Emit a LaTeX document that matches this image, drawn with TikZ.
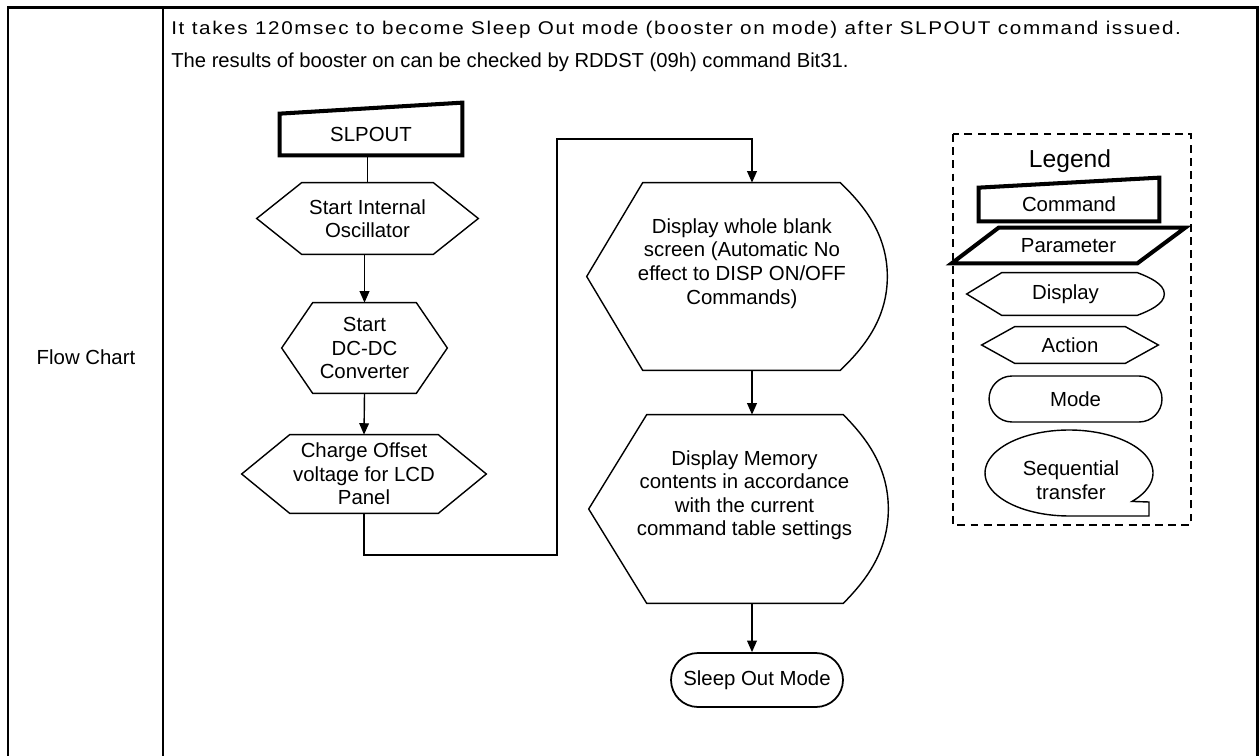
\documentclass[tikz,border=0pt]{standalone}
\usepackage{fontspec}
\setmainfont{Liberation Sans}
\newfontfamily\widefont[FakeStretch=1.12,LetterSpace=8.8]{Liberation Sans}
\usetikzlibrary{arrows.meta,calc,shapes.misc}

\tikzset{
  flowtext/.style={font=\fontsize{11.6}{13.4}\selectfont, align=center, inner sep=0pt},
  shapeline/.style={line width=0.8pt, line join=miter},
  boldline/.style={line width=2.3pt, line join=miter},
  flowline/.style={line width=0.8pt},
  flowarrow/.style={line width=0.8pt, -{Triangle[length=6.5pt,width=5.5pt]}},
}

% hexagon round a node, #2 = depth of the side points
\newcommand{\hexshape}[2]{%
  \draw[shapeline] (#1.west) -- ($(#1.north west)+(#2,0)$) -- ($(#1.north east)+(-#2,0)$)
    -- (#1.east) -- ($(#1.south east)+(-#2,0)$) -- ($(#1.south west)+(#2,0)$) -- cycle;}
% display symbol round a node, #2 = left point, #3 = rounded right side
\newcommand{\dispshape}[3]{%
  \draw[shapeline] (#1.west) -- ($(#1.north west)+(#2,0)$) -- ($(#1.north east)+(-#3,0)$)
    .. controls ($(#1.north east)!0.21!(#1.east)+(-0.57*#3,0)$) and ($(#1.east)!0.48!(#1.north east)$) .. (#1.east)
    .. controls ($(#1.east)!0.48!(#1.south east)$) and ($(#1.south east)!0.21!(#1.east)+(-0.57*#3,0)$) .. ($(#1.south east)+(-#3,0)$)
    -- ($(#1.south west)+(#2,0)$) -- cycle;}

\begin{document}
\begin{tikzpicture}[x=0.02cm,y=-0.02cm]
  \useasboundingbox (0,0) rectangle (1260,756);
  % table frame
  \draw[line width=1.7pt] (8,756) -- (8,8) -- (1257,8) -- (1257,756);
  \draw[line width=1.3pt] (163,8) -- (163,756);
  \node[flowtext] (rowlabel) at (86,357) {Flow Chart};
  \node[anchor=west, inner sep=0pt, font=\widefont\fontsize{10.5}{12}\selectfont] (noteA) at (171,30)
    {It takes 120msec to become Sleep Out mode (booster on mode) after SLPOUT command issued.};
  \node[anchor=west, inner sep=0pt, font=\fontsize{11.5}{13}\selectfont] (noteB) at (171,62)
    {The results of booster on can be checked by RDDST (09h) command Bit31.};

  % flow steps
  \node[flowtext, minimum width=3.64cm, minimum height=0.82cm] (slpout) at (371,134.5) {SLPOUT};
  \draw[boldline] (slpout.north west) -- ($(slpout.north east)+(0,-11)$) -- (slpout.south east)
    -- (slpout.south west) -- cycle;
  \node[flowtext, minimum width=4.42cm, minimum height=1.42cm] (osc) at (367.5,218.5) {Start Internal\\Oscillator};
  \hexshape{osc}{45}
  \node[flowtext, minimum width=3.3cm, minimum height=1.8cm] (dcdc) at (364.5,348) {Start\\DC-DC\\Converter};
  \hexshape{dcdc}{31}
  \node[flowtext, minimum width=4.88cm, minimum height=1.56cm] (charge) at (364,474) {Charge Offset\\voltage for LCD\\Panel};
  \hexshape{charge}{48}
  \node[flowtext, minimum width=6cm, minimum height=3.74cm,
    label={[flowtext,xshift=2.8pt,yshift=7.4pt]center:Display whole blank\\screen (Automatic No\\effect to DISP ON/OFF\\Commands)}]
    (blank) at (737,276.5) {};
  \dispshape{blank}{56}{47}
  \node[flowtext, minimum width=5.98cm, minimum height=3.76cm,
    label={[flowtext,xshift=3.4pt,yshift=7.9pt]center:Display Memory\\contents in accordance\\with the current\\command table settings}]
    (memory) at (738.5,509) {};
  \dispshape{memory}{58}{45}
  \node[flowtext, draw, line width=1pt, rounded rectangle, minimum width=3.44cm, minimum height=1.08cm] (sleepout) at (757,680) {Sleep Out Mode};

  % connectors
  \coordinate (turnA) at (557,555);
  \coordinate (turnB) at (557,139);
  \coordinate (turnC) at (752,139);
  \draw[flowline] (slpout.south -| osc.north) -- (osc.north);
  \draw[flowarrow] (dcdc.north |- osc.south) -- (dcdc.north);
  \draw[flowarrow] (dcdc.south) -- (charge.north);
  \draw[flowarrow] (charge.south) |- (turnA) -- (turnB) -- (turnC) -- (turnC |- blank.north);
  \draw[flowarrow] (turnC |- blank.south) -- (turnC |- memory.north);
  \draw[flowarrow] (turnC |- memory.south) -- (turnC |- sleepout.north);

  % legend
  \draw[line width=1pt, dash pattern=on 4.5pt off 3pt] (953,134) rectangle (1191,525);
  \node[font=\fontsize{14}{16}\selectfont, inner sep=0pt] (legtitle) at (1070,161) {Legend};
  \node[flowtext, minimum width=3.6cm, minimum height=0.66cm] (legcmd) at (1069,204.5) {Command};
  \draw[boldline] (legcmd.north west) -- ($(legcmd.north east)+(0,-10)$) -- (legcmd.south east)
    -- (legcmd.south west) -- cycle;
  \node[flowtext, minimum width=4.66cm, minimum height=0.7cm] (legparam) at (1068.5,245.5) {Parameter};
  \draw[boldline] (legparam.south west) -- ($(legparam.north west)+(47,0)$) -- (legparam.north east)
    -- ($(legparam.south east)+(-48,0)$) -- cycle;
  \node[flowtext, minimum width=3.94cm, minimum height=0.84cm] (legdisp) at (1065.5,294) {Display};
  \dispshape{legdisp}{35}{27}
  \node[flowtext, minimum width=3.52cm, minimum height=0.72cm] (legact) at (1070,345) {Action};
  \hexshape{legact}{33}
  \node[flowtext, draw, line width=0.8pt, rounded rectangle, minimum width=3.46cm, minimum height=0.92cm] (legmode) at (1075.5,399) {Mode};
  \node[flowtext] (legseq) at (1071,480) {Sequential\\transfer};
  \draw[shapeline] plot[domain=41.4:-270, samples=90, variable=\t] ({1069+84*cos(\t)},{473+43*sin(\t)})
    -- (1149,516) -- (1149,502) -- cycle;
\end{tikzpicture}
\end{document}
